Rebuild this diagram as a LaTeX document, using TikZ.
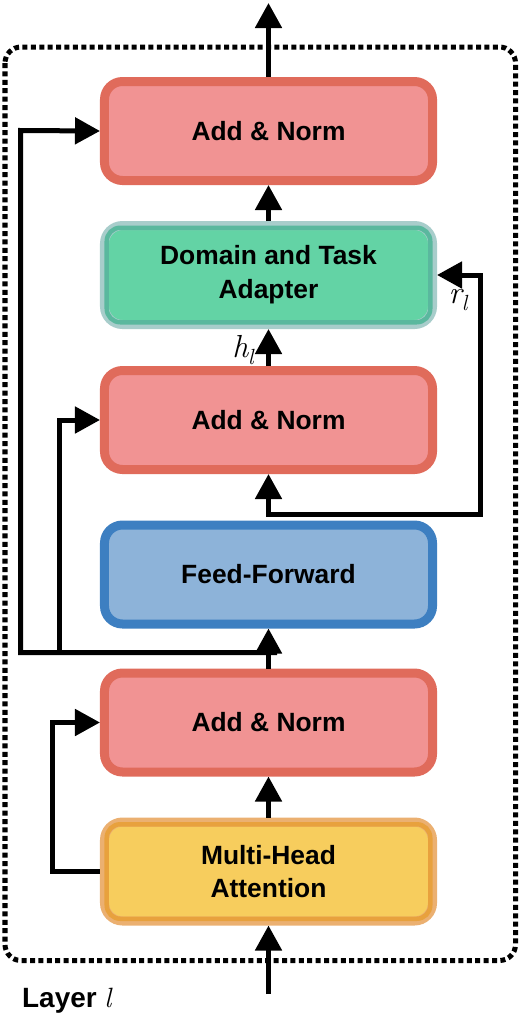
\documentclass[tikz,border=0pt]{standalone}
\usepackage{fontspec}
\newfontfamily\hvm{Liberation Sans Bold}
\newfontfamily\hvb{Liberation Sans Bold}
\newfontfamily\lmr{Latin Modern Roman}
\usetikzlibrary{arrows.meta}
\definecolor{anS}{HTML}{E06B5B}
\definecolor{anF}{HTML}{F19393}
\definecolor{adO}{HTML}{A8CDCB}
\definecolor{adI}{HTML}{5AB89E}
\definecolor{adF}{HTML}{63D3A5}
\definecolor{mhO}{HTML}{EBB071}
\definecolor{mhI}{HTML}{E8A13D}
\definecolor{mhF}{HTML}{F7CD5D}
\definecolor{ffS}{HTML}{3D7FC1}
\definecolor{ffF}{HTML}{8DB3D9}
\newcommand{\mvar}[2]{{\lmr\itshape\fontsize{32}{34}\selectfont #1\raisebox{-7bp}{\fontsize{22}{24}\selectfont #2}}}
\begin{document}
\begin{tikzpicture}[x=1bp,y=-1bp,
  box/.style={rectangle, rounded corners=18bp, minimum width=328bp, minimum height=99bp,
    line width=9bp, align=center, inner sep=0pt,
    font=\hvm\fontsize{26.5}{34}\selectfont},
  anbox/.style={box, draw=anS, fill=anF},
  ffbox/.style={box, draw=ffS, fill=ffF},
  adbox/.style={box, draw=adO, fill=adF},
  mhbox/.style={box, draw=mhO, fill=mhF},
  arr/.style={line width=5bp, -{Triangle[length=25bp,width=26bp]}},
  mathlbl/.style={inner sep=0pt}
]
\useasboundingbox (0,0) rectangle (522,1022);
% dotted layer frame
\draw[line width=5bp, dash pattern=on 5bp off 3.4bp, rounded corners=16bp]
  (5,47) rectangle (515.5,960.5);

% boxes
\node[anbox] (an1) at (268.5,131) {Add \& Norm};
\node[adbox] (ad)  at (268.5,275) {Domain and Task\\Adapter};
\node[anbox] (an2) at (268.5,420) {Add \& Norm};
\node[ffbox] (ff)  at (268.5,574.5) {Feed-Forward};
\node[anbox] (an3) at (268.5,722.5) {Add \& Norm};
\node[mhbox] (mh)  at (268.5,871.5) {Multi-Head\\Attention};

% inner borders of double-bordered boxes
\draw[adI, line width=4.5bp, rounded corners=13.5bp]
  ([shift={(6.75,6.75)}]ad.north west) rectangle ([shift={(-6.75,-6.75)}]ad.south east);
\draw[mhI, line width=4.5bp, rounded corners=13.5bp]
  ([shift={(6.75,6.75)}]mh.north west) rectangle ([shift={(-6.75,-6.75)}]mh.south east);

% coordinates
\coordinate (out) at (268.5,3);
\coordinate (in) at (268.5,994);
\coordinate (j2) at (268.5,514.5);
\coordinate (j3) at (268.5,652.5);

% main flow
\draw[arr] (an1.north) -- (out);
\draw[arr] (ad.north) -- (an1.south);
\draw[arr] (an2.north) -- (ad.south);
\draw[arr] (j2) -- (an2.south);
\draw[arr] (an3.north) -- (ff.south);
\draw[arr] (mh.north) -- (an3.south);
\draw[arr] (in) -- (mh.south);

% adapter residual r_l
\draw[arr] ([xshift=-2.5bp]j2) -- (480.5,514.5) |- (ad.east);

% residual skips
\draw[arr] ([xshift=8.5bp]j3) -| (20.5,130.5) -- (an1.west);
\draw[arr] (59.5,652.5) |- (an2.west);
\draw[arr] (mh.west) -- (52.5,871.5) |- (an3.west);

% labels
\node[mathlbl] (hl) at (243,350) {\mvar{h}{l}};
\node[mathlbl] (rl) at (458,300) {\mvar{r}{l}};
\node[anchor=base west, inner sep=0pt] (layer) at (22,1007)
  {\hvb\fontsize{28}{30}\selectfont Layer {\lmr\itshape\fontsize{28}{30}\selectfont l}};
\end{tikzpicture}
\end{document}
